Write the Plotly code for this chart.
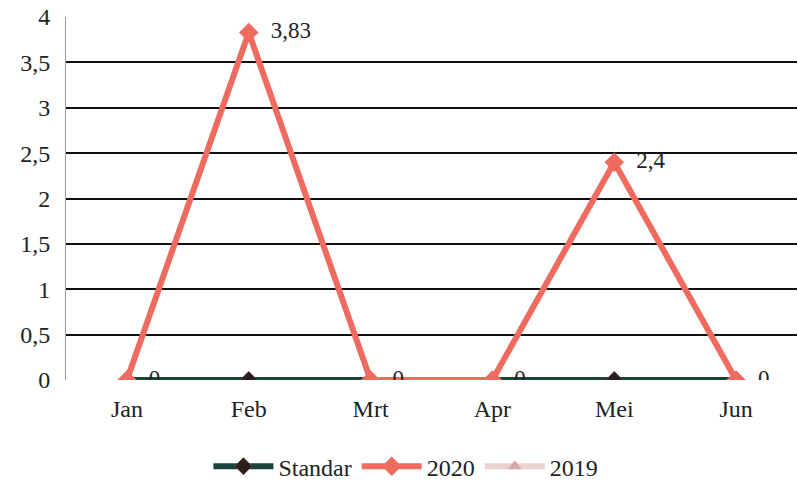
import plotly.graph_objects as go

months = ["Jan", "Feb", "Mrt", "Apr", "Mei", "Jun"]
standar = [0, 0, 0, 0, 0, 0]
y2020 = [0, 3.83, 0, 0, 2.4, 0]
y2019 = [0, 0, 0, 0, 0, 0]
y_ticks = [0, 0.5, 1, 1.5, 2, 2.5, 3, 3.5, 4]

FONT = "Liberation Serif, Times New Roman, serif"

fig = go.Figure()

fig.add_trace(go.Scatter(
    x=months, y=y2019, name="2019", mode="lines+markers",
    line=dict(color="#E8D2D2", width=6),
    marker=dict(symbol="triangle-up", size=12, color="#D9A8A8"),
))
fig.add_trace(go.Scatter(
    x=months, y=standar, name="Standar", mode="lines+markers",
    line=dict(color="#17433A", width=6),
    marker=dict(symbol="diamond", size=13, color="#2A1E1E",
                line=dict(color="#5A3A3A", width=1)),
))
fig.add_trace(go.Scatter(
    x=months, y=y2020, name="2020", mode="lines+markers+text",
    line=dict(color="#EF6B60", width=6),
    marker=dict(symbol="diamond", size=15, color="#EF6B60"),
    text=["  " + f"{v:g}".replace(".", ",") for v in y2020],
    textposition="middle right",
    textfont=dict(family=FONT, size=23, color="#222222"),
))

# legend order: Standar, 2020, 2019
fig.data[1].legendrank = 1
fig.data[2].legendrank = 2
fig.data[0].legendrank = 3

fig.update_layout(
    width=798, height=486,
    margin=dict(l=66, r=1, t=17, b=106, autoexpand=False),
    paper_bgcolor="white", plot_bgcolor="white",
    separators=", ",
    font=dict(family=FONT, size=24, color="#222222"),
    showlegend=True,
    legend=dict(orientation="h", x=0.465, xanchor="center",
                yref="container", y=0.04, yanchor="middle",
                font=dict(family=FONT, size=24, color="#222222"),
                itemwidth=60),
    xaxis=dict(type="category", range=[-0.5, 5.5], showgrid=False,
               showline=False, zeroline=False, ticks="",
               ticklabelstandoff=12, automargin=False,
               tickfont=dict(family=FONT, size=24, color="#222222")),
    yaxis=dict(range=[0, 4], tickvals=y_ticks,
               showgrid=True, gridcolor="#111111", gridwidth=1.5,
               zeroline=False, showline=True, linecolor="#9A9A9A", linewidth=1,
               ticks="", ticklabelstandoff=10, automargin=False,
               tickfont=dict(family=FONT, size=24, color="#222222")),
)

fig.write_html("out.html")
